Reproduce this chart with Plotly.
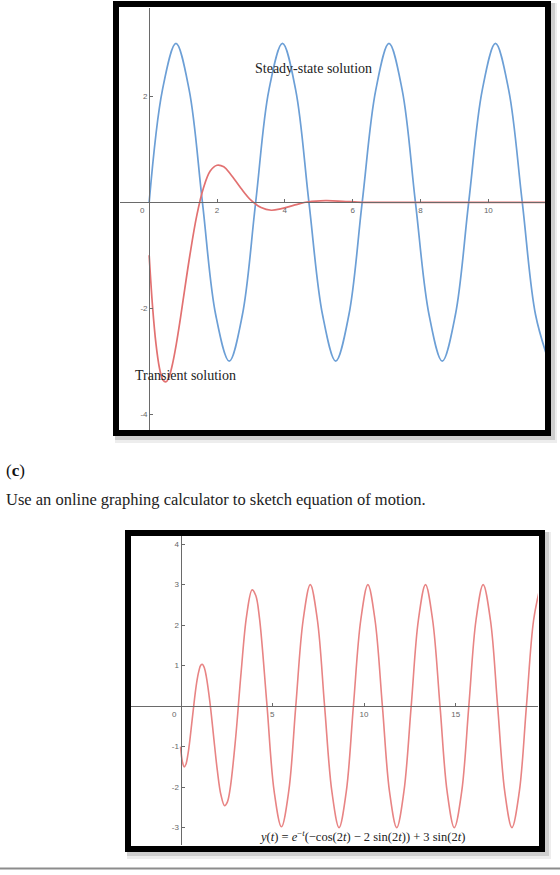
import plotly.graph_objects as go

W, H = 560, 875

# ---------------- data ----------------
# Chart 1: steady-state solution (blue)
steady_t = [0, 0.39, 0.79, 1.18, 1.57, 1.96, 2.36, 2.75, 3.14, 3.53, 3.93, 4.32, 4.71,
            5.11, 5.50, 5.89, 6.28, 6.68, 7.07, 7.46, 7.85, 8.25, 8.64, 9.03, 9.42,
            9.82, 10.21, 10.60, 11.00, 11.39, 11.78]
steady_y = [0, 2.12, 3, 2.12, 0, -2.12, -3, -2.12, 0, 2.12, 3, 2.12, 0, -2.12, -3, -2.12,
            0, 2.12, 3, 2.12, 0, -2.12, -3, -2.12, 0, 2.12, 3, 2.12, 0, -2.12, -3]

# Chart 1: transient solution (red)
transient_t = [0, 0.1, 0.2, 0.3, 0.4, 0.5, 0.6, 0.7, 0.8, 0.9, 1.0, 1.2, 1.4, 1.6, 1.8,
               2.0, 2.2, 2.4, 2.7, 3.0, 3.3, 3.6, 3.9, 4.3, 4.7, 5.2, 5.7, 6.3, 7.0,
               8.0, 9.0, 10.0, 11.0, 11.8]
transient_y = [-1.0, -1.97, -2.67, -3.12, -3.35, -3.39, -3.27, -3.02, -2.68, -2.28, -1.85,
               -1.0, -0.26, 0.27, 0.59, 0.70, 0.67, 0.53, 0.27, 0.04, -0.10, -0.15, -0.12,
               -0.05, 0.01, 0.03, 0.02, 0, 0, 0, 0, 0, 0, 0]

# Chart 2: equation of motion (red)
motion_t = [0, 0.1, 0.2, 0.3, 0.4, 0.5, 0.6, 0.7, 0.8, 0.9, 1.0, 1.1, 1.2, 1.3, 1.4,
            1.6, 1.8, 2.0, 2.2, 2.4, 2.55, 2.7, 3.0, 3.3, 3.6, 3.9, 4.1, 4.3, 4.7,
            5.1, 5.5, 5.9, 6.28, 6.68, 7.07, 7.46, 7.85, 8.25, 8.64, 9.03, 9.42, 9.82,
            10.21, 10.60, 11.00, 11.39, 11.78, 12.17, 12.57, 12.96, 13.35, 13.74, 14.14,
            14.53, 14.92, 15.32, 15.71, 16.10, 16.49, 16.89, 17.28, 17.67, 18.06, 18.46,
            18.85, 19.24, 19.63]
motion_y = [-1.0, -1.37, -1.50, -1.43, -1.20, -0.87, -0.47, -0.07, 0.32, 0.64, 0.87, 1.01,
            1.03, 0.94, 0.74, 0.10, -0.74, -1.57, -2.19, -2.46, -2.37, -2.05, -0.80, 0.83,
            2.23, 2.87, 2.73, 2.18, 0.08, -2.10, -2.98, -2.09, 0, 2.12, 3, 2.12, 0, -2.12,
            -3, -2.12, 0, 2.12, 3, 2.12, 0, -2.12, -3, -2.12, 0, 2.12, 3, 2.12, 0, -2.12,
            -3, -2.12, 0, 2.12, 3, 2.12, 0, -2.12, -3, -2.12, 0, 2.12, 3]

# tick labels
c1_xticks = [2, 4, 6, 8, 10]
c1_xtext = ["2", "4", "6", "8", "10"]
c1_yticks = [-4, -2, 2]
c1_ytext = ["-4", "-2", "2"]
c2_xticks = [5, 10, 15]
c2_xtext = ["5", "10", "15"]
c2_yticks = [-3, -2, -1, 1, 2, 3, 4]
c2_ytext = ["-3", "-2", "-1", "1", "2", "3", "4"]

label_steady = "Steady-state solution"
label_transient = "Transient solution"
label_c = "(<b>c</b>)"
label_sentence = "Use an online graphing calculator to sketch equation of motion."
label_equation = ("<i>y</i>(<i>t</i>) = <i>e</i><sup>\u2212<i>t</i></sup>(\u2212cos(2<i>t</i>) "
                  "\u2212 2 sin(2<i>t</i>)) + 3 sin(2<i>t</i>)")

# ---------------- styling / layout ----------------
BLUE = "#6c9fd6"
RED = "#e27171"
RED2 = "#e88484"
AXC = "#6a6a6a"
SERIF = "Liberation Serif"
SANS = "Liberation Sans"


def px(p):
    return p / W


def py(p):
    return 1 - p / H


# plot areas in pixels
c1_box = dict(l=120, r=545, t=8, b=431)
c1_xr = [-0.86, 11.67]
c1_yr = [-4.32, 3.67]
c2_box = dict(l=131, r=538, t=536, b=845)
c2_xr = [-2.70, 19.48]
c2_yr = [-3.43, 4.20]


def zero_pos(box, xr, yr):
    dx0, dx1 = px(box["l"]), px(box["r"])
    dy0, dy1 = py(box["b"]), py(box["t"])
    xpos = dx0 + (0 - xr[0]) / (xr[1] - xr[0]) * (dx1 - dx0)
    ypos = dy0 + (0 - yr[0]) / (yr[1] - yr[0]) * (dy1 - dy0)
    return [dx0, dx1], [dy0, dy1], xpos, ypos


c1_dx, c1_dy, c1_x0, c1_y0 = zero_pos(c1_box, c1_xr, c1_yr)
c2_dx, c2_dy, c2_x0, c2_y0 = zero_pos(c2_box, c2_xr, c2_yr)

fig = go.Figure()
fig.add_trace(go.Scatter(x=steady_t, y=steady_y, mode="lines", xaxis="x", yaxis="y",
                         line=dict(color=BLUE, width=1.7, shape="spline"), hoverinfo="skip"))
fig.add_trace(go.Scatter(x=transient_t, y=transient_y, mode="lines", xaxis="x", yaxis="y",
                         line=dict(color=RED, width=1.7, shape="spline"), hoverinfo="skip"))
fig.add_trace(go.Scatter(x=motion_t, y=motion_y, mode="lines", xaxis="x2", yaxis="y2",
                         line=dict(color=RED2, width=1.6, shape="spline"), hoverinfo="skip"))

axis_common = dict(showgrid=False, zeroline=False, showline=True, linecolor=AXC, linewidth=1,
                   ticks="inside", ticklen=3, tickwidth=1, tickcolor=AXC,
                   tickfont=dict(family=SANS, size=8, color="#666666"),
                   anchor="free", fixedrange=True)

fig.update_layout(
    width=W, height=H, margin=dict(l=0, r=0, t=0, b=0),
    paper_bgcolor="white", plot_bgcolor="rgba(0,0,0,0)", showlegend=False,
    xaxis=dict(domain=c1_dx, range=c1_xr, position=c1_y0, tickvals=c1_xticks,
               ticktext=c1_xtext, **axis_common),
    yaxis=dict(domain=c1_dy, range=c1_yr, position=c1_x0, tickvals=c1_yticks,
               ticktext=c1_ytext, **axis_common),
    xaxis2=dict(domain=c2_dx, range=c2_xr, position=c2_y0, tickvals=c2_xticks,
                ticktext=c2_xtext, **axis_common),
    yaxis2=dict(domain=c2_dy, range=c2_yr, position=c2_x0, tickvals=c2_yticks,
                ticktext=c2_ytext, **axis_common),
)

shapes = []


def framed(ol, ot, orr, ob):
    # drop shadow
    shapes.append(dict(type="rect", xref="paper", yref="paper", layer="below",
                       x0=px(ol + 2), x1=px(orr + 6), y0=py(ob + 7), y1=py(ot + 2),
                       line=dict(width=0), fillcolor="rgba(0,0,0,0.07)"))
    shapes.append(dict(type="rect", xref="paper", yref="paper", layer="below",
                       x0=px(ol + 2), x1=px(orr + 4), y0=py(ob + 4), y1=py(ot + 2),
                       line=dict(width=0), fillcolor="rgba(0,0,0,0.13)"))
    # white face
    shapes.append(dict(type="rect", xref="paper", yref="paper", layer="below",
                       x0=px(ol), x1=px(orr), y0=py(ob), y1=py(ot),
                       line=dict(width=0), fillcolor="white"))
    # thick black frame
    shapes.append(dict(type="rect", xref="paper", yref="paper", layer="above",
                       x0=px(ol + 3), x1=px(orr - 3), y0=py(ob - 3), y1=py(ot + 3),
                       line=dict(color="black", width=6), fillcolor="rgba(0,0,0,0)"))


framed(113, 1, 551, 436)
framed(125, 530, 545, 852)

# bottom rule
shapes.append(dict(type="line", xref="paper", yref="paper", x0=0, x1=1,
                   y0=py(868.5), y1=py(868.5), line=dict(color="#8c8c8c", width=2)))

fig.update_layout(shapes=shapes)

ann = [
    dict(text="0", xref="x", yref="y", x=0, y=0, xanchor="right", yanchor="top",
         xshift=-2, yshift=-2, showarrow=False,
         font=dict(family=SANS, size=8, color="#666666")),
    dict(text="0", xref="x2", yref="y2", x=0, y=0, xanchor="right", yanchor="top",
         xshift=-2, yshift=-2, showarrow=False,
         font=dict(family=SANS, size=8, color="#666666")),
    dict(text=label_steady, xref="x", yref="y", x=4.84, y=2.52, showarrow=False,
         xanchor="center", yanchor="middle", font=dict(family=SERIF, size=14, color="#222222")),
    dict(text=label_transient, xref="x", yref="y", x=1.07, y=-3.28, showarrow=False,
         xanchor="center", yanchor="middle", font=dict(family=SERIF, size=14, color="#222222")),
    dict(text=label_equation, xref="x2", yref="y2", x=9.87, y=-3.2, showarrow=False,
         xanchor="center", yanchor="middle", font=dict(family=SERIF, size=12.5, color="#222222")),
    dict(text=label_c, xref="paper", yref="paper", x=px(4), y=py(470), showarrow=False,
         xanchor="left", yanchor="middle", font=dict(family=SERIF, size=17, color="#111111")),
    dict(text=label_sentence, xref="paper", yref="paper", x=px(4), y=py(499), showarrow=False,
         xanchor="left", yanchor="middle", font=dict(family=SERIF, size=16.5, color="#222222")),
]
fig.update_layout(annotations=ann)

fig.write_html("out.html")
